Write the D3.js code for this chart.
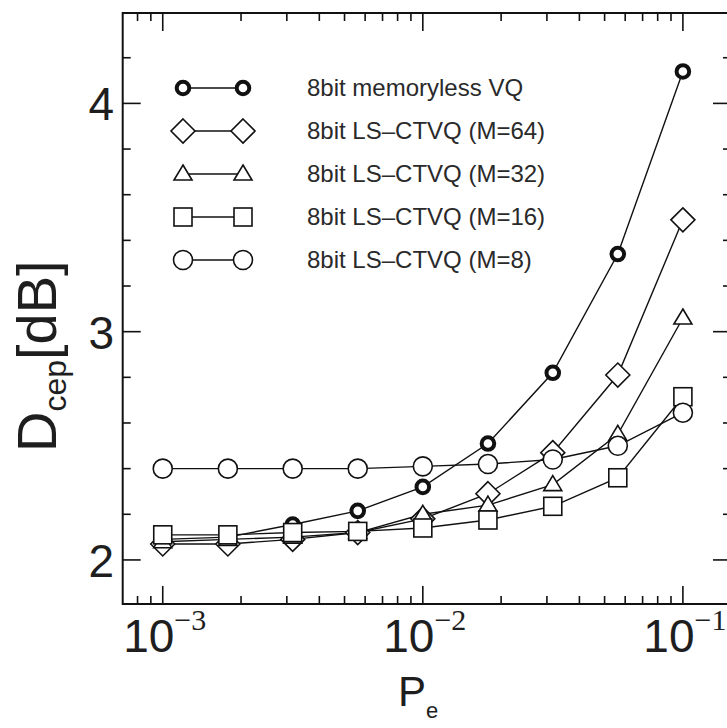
<!DOCTYPE html>
<html>
<head>
<meta charset="utf-8">
<script src="https://cdn.jsdelivr.net/npm/d3@7"></script>
<style>
  html, body { margin: 0; padding: 0; background: #fff; }
  svg { display: block; }
</style>
</head>
<body>
<svg id="chart" width="727" height="728"></svg>
<script>
// Error probability (quarter-decade steps from 1e-3 to 1e-1)
const pe = [0.001, 0.00178, 0.00316, 0.00562, 0.01, 0.0178, 0.0316, 0.0562, 0.1];

// Cepstral distortion D_cep [dB] for each coder
const memoryless = [2.09, 2.10, 2.155, 2.215, 2.32, 2.51, 2.82, 3.34, 4.14];
const ctvqM64    = [2.07, 2.07, 2.09, 2.12, 2.18, 2.29, 2.47, 2.81, 3.49];
const ctvqM32    = [2.08, 2.09, 2.10, 2.12, 2.20, 2.24, 2.33, 2.55, 3.06];
const ctvqM16    = [2.11, 2.11, 2.12, 2.125, 2.14, 2.175, 2.235, 2.36, 2.715];
const ctvqM8     = [2.40, 2.40, 2.40, 2.40, 2.41, 2.42, 2.44, 2.50, 2.645];

const seriesNames = [
  "8bit memoryless VQ",
  "8bit LS\u2013CTVQ (M=64)",
  "8bit LS\u2013CTVQ (M=32)",
  "8bit LS\u2013CTVQ (M=16)",
  "8bit LS\u2013CTVQ (M=8)"
];
const seriesMarkers = ["boldCircle", "diamond", "triangle", "square", "circle"];
const seriesValues = [memoryless, ctvqM64, ctvqM32, ctvqM16, ctvqM8];

const yTickLabels = [2, 3, 4];
const xTickExponents = [-3, -2, -1];

// Frame and scales
const frame = { left: 122.7, right: 731, top: 13, bottom: 604 };
const x = d3.scaleLog().domain([0.0007015, 0.1531]).range([frame.left, frame.right]);
const y = d3.scaleLinear().domain([1.807, 4.396]).range([frame.bottom, frame.top]);

const svg = d3.select("#chart");
const ink = "#111";
const textInk = "#1e1e1e";
const sans = "'Liberation Sans', Arial, Helvetica, sans-serif";
const serif = "'Liberation Serif', 'Times New Roman', serif";

// Ticks (all pointing inward on all four sides)
const majorLen = 18, minorLen = 8;
const ticks = svg.append("g").attr("stroke", ink).attr("stroke-width", 1.6);

const yMinor = d3.range(1.8, 4.41, 0.2).map(v => +v.toFixed(1)).filter(v => v > 1.807 && v < 4.396);
yMinor.forEach(v => {
  const major = Math.abs(v - Math.round(v)) < 1e-6;
  const len = major ? majorLen : minorLen;
  ticks.append("line").attr("x1", frame.left).attr("x2", frame.left + len).attr("y1", y(v)).attr("y2", y(v));
  ticks.append("line").attr("x1", frame.right).attr("x2", frame.right - len).attr("y1", y(v)).attr("y2", y(v));
});

const xAll = [];
[-4, -3, -2, -1].forEach(e => { for (let m = 1; m <= 9; m++) xAll.push({ v: m * Math.pow(10, e), major: m === 1 }); });
xAll.filter(t => x(t.v) > frame.left + 1 && x(t.v) < frame.right - 1).forEach(t => {
  const len = t.major ? majorLen : minorLen;
  ticks.append("line").attr("x1", x(t.v)).attr("x2", x(t.v)).attr("y1", frame.bottom).attr("y2", frame.bottom - len);
  ticks.append("line").attr("x1", x(t.v)).attr("x2", x(t.v)).attr("y1", frame.top).attr("y2", frame.top + len);
});

// Frame
svg.append("rect")
  .attr("x", frame.left).attr("y", frame.top)
  .attr("width", frame.right - frame.left).attr("height", frame.bottom - frame.top)
  .attr("fill", "none").attr("stroke", ink).attr("stroke-width", 2);

// Y tick labels
svg.append("g").selectAll("text").data(yTickLabels).join("text")
  .attr("x", 114).attr("y", d => y(d) + 17)
  .attr("text-anchor", "end")
  .attr("font-family", sans).attr("font-size", 46)
  .attr("fill", textInk)
  .text(d => d);

// X tick labels: 10 with a superscript exponent
const xl = svg.append("g");
xTickExponents.forEach(e => {
  const t = xl.append("text")
    .attr("y", 652)
    .attr("font-family", sans).attr("font-size", 46).attr("fill", textInk);
  t.append("tspan").text("10");
  t.append("tspan").attr("dy", -22).attr("font-family", serif).attr("font-size", 30).text("\u2212" + Math.abs(e));
  const w = t.node().getComputedTextLength();
  t.attr("x", x(Math.pow(10, e)) - w / 2 + 2);
});

// Axis titles
const xt = svg.append("text").attr("x", 398).attr("y", 706)
  .attr("font-family", sans).attr("font-size", 42).attr("fill", textInk);
xt.append("tspan").text("P");
xt.append("tspan").attr("dy", 12).attr("font-size", 22).text("e");

const yt = svg.append("text")
  .attr("transform", "translate(56,452) rotate(-90)")
  .attr("font-family", sans).attr("font-size", 56).attr("fill", textInk);
yt.append("tspan").text("D");
yt.append("tspan").attr("dy", 10).attr("font-size", 32).text("cep");
yt.append("tspan").attr("dy", -10).text("[dB]");

// Marker shapes
function drawMarker(g, kind, cx, cy) {
  if (kind === "boldCircle") {
    g.append("circle").attr("cx", cx).attr("cy", cy).attr("r", 6.3)
      .attr("fill", "#fff").attr("stroke", ink).attr("stroke-width", 4);
  } else if (kind === "circle") {
    g.append("circle").attr("cx", cx).attr("cy", cy).attr("r", 9.5)
      .attr("fill", "#fff").attr("stroke", ink).attr("stroke-width", 1.6);
  } else if (kind === "square") {
    g.append("rect").attr("x", cx - 9).attr("y", cy - 9).attr("width", 18).attr("height", 18)
      .attr("fill", "#fff").attr("stroke", ink).attr("stroke-width", 1.6);
  } else if (kind === "diamond") {
    const h = 12;
    g.append("path").attr("d", `M${cx},${cy - h}L${cx + h},${cy}L${cx},${cy + h}L${cx - h},${cy}Z`)
      .attr("fill", "#fff").attr("stroke", ink).attr("stroke-width", 1.6);
  } else if (kind === "triangle") {
    const w = 9, ht = 15;
    g.append("path").attr("d", `M${cx},${cy - ht * 0.6}L${cx + w},${cy + ht * 0.4}L${cx - w},${cy + ht * 0.4}Z`)
      .attr("fill", "#fff").attr("stroke", ink).attr("stroke-width", 1.6);
  }
}

// Series: connecting lines, then markers
const line = d3.line().x(d => x(d[0])).y(d => y(d[1]));
const plot = svg.append("g");
seriesValues.forEach((vals) => {
  const pts = pe.map((p, j) => [p, vals[j]]);
  plot.append("path").attr("d", line(pts))
    .attr("fill", "none").attr("stroke", ink).attr("stroke-width", 1.4);
});
seriesValues.forEach((vals, i) => {
  const g = plot.append("g");
  pe.forEach((p, j) => drawMarker(g, seriesMarkers[i], x(p), y(vals[j])));
});

// Legend
const legend = svg.append("g");
const legX1 = 183, legX2 = 243, legY0 = 88, legStep = 43;
seriesNames.forEach((name, i) => {
  const ly = legY0 + i * legStep;
  legend.append("line").attr("x1", legX1).attr("x2", legX2).attr("y1", ly).attr("y2", ly)
    .attr("stroke", ink).attr("stroke-width", 1.6);
  drawMarker(legend, seriesMarkers[i], legX1, ly);
  drawMarker(legend, seriesMarkers[i], legX2, ly);
  legend.append("text").attr("x", 307).attr("y", ly + 8)
    .attr("font-family", sans).attr("font-size", 24).attr("fill", "#2a2a2a")
    .text(name);
});
</script>
</body>
</html>
